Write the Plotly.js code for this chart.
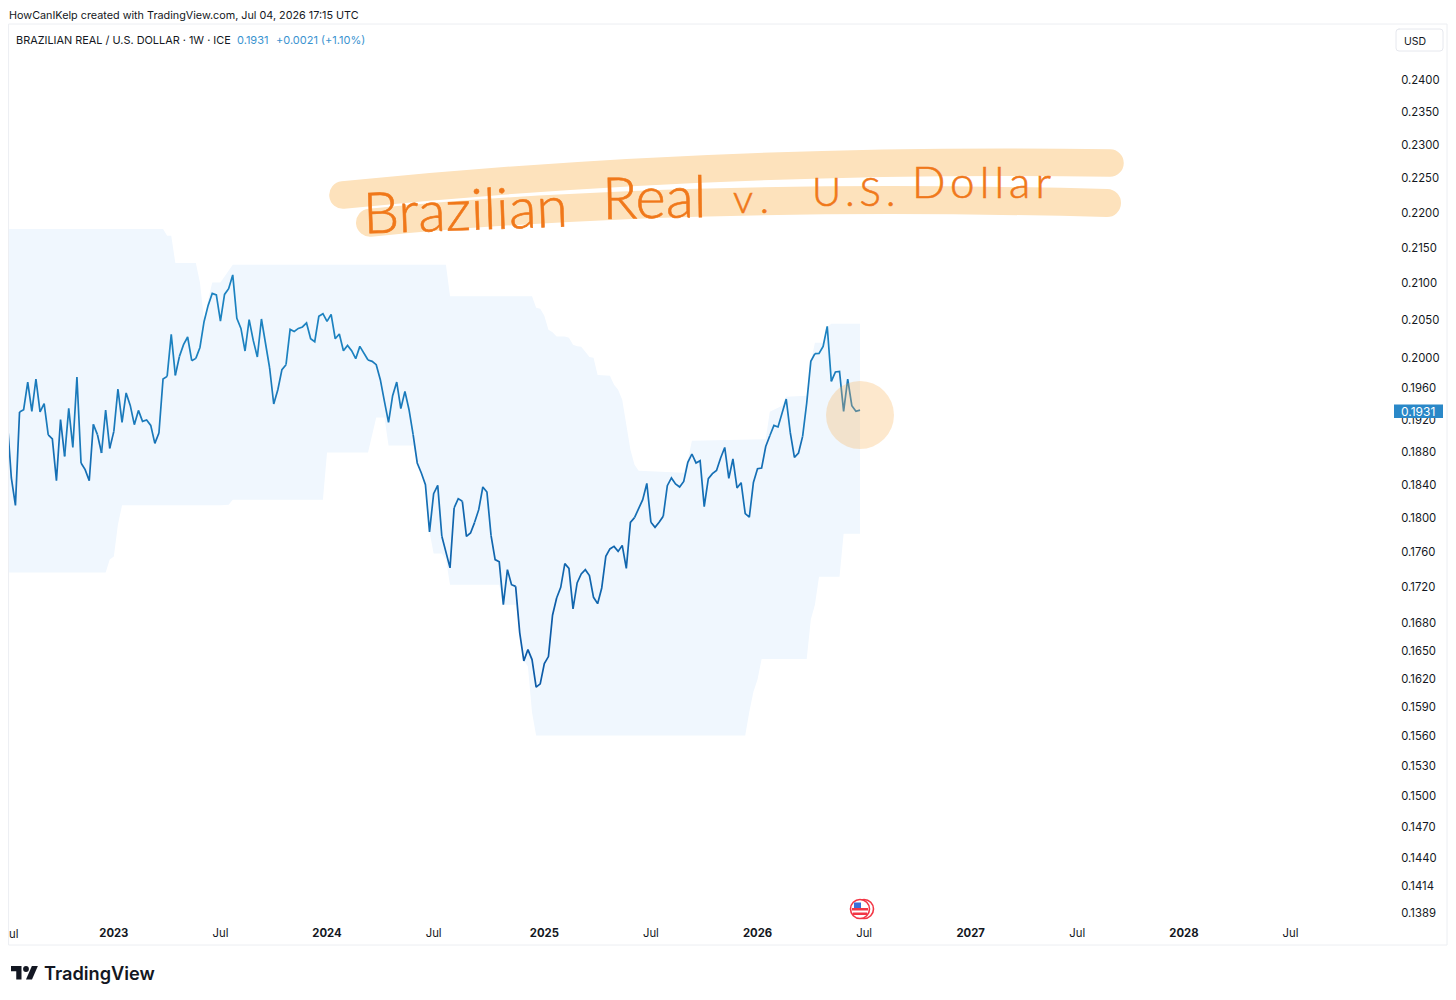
<!DOCTYPE html>
<html>
<head>
<meta charset="utf-8">
<script src="https://cdn.plot.ly/plotly-3.0.1.min.js"></script>
<style>
html,body{margin:0;padding:0;background:#fff;}
#chart{width:1456px;height:1000px;}
.shapelayer path{stroke-linecap:round;}
.ytick text{translate:0 1px;}
text[data-unformatted="Brazilian"],text[data-unformatted="Real"],text[data-unformatted="v."],text[data-unformatted="U.S."],text[data-unformatted="Dollar"]{stroke:#f0781a;stroke-width:0.6px;}
text[data-unformatted="U.S."]{letter-spacing:5px;}
text[data-unformatted="v."]{letter-spacing:8px;}
text[data-unformatted="Dollar"]{letter-spacing:5px;}
</style>
</head>
<body>
<div id="chart"></div>
<script>
// Weekly closes, oldest (week of 2022-07-04) to newest (week of 2026-06-29)
const firstWeek = '2022-07-04';
const closeValues = [
0.1919,0.18469,0.18140,0.19287,0.19316,0.19670,0.19295,0.19709,0.19287,0.19392,
0.18998,0.18948,0.18436,0.19190,0.18733,0.19332,0.18843,0.19735,0.18652,0.18570,
0.18436,0.19131,0.19002,0.18774,0.19312,0.18831,0.19043,0.19580,0.19156,0.19529,
0.19370,0.19127,0.19307,0.19169,0.19186,0.19118,0.18893,0.19023,0.19709,0.19743,
0.20295,0.19756,0.20004,0.20158,0.20260,0.19948,0.19978,0.20122,0.20465,0.20685,
0.20849,0.20827,0.20474,0.20835,0.20913,0.21103,0.20510,0.20375,0.20075,0.20492,
0.20215,0.19996,0.20501,0.20180,0.19852,0.19388,0.19571,0.19830,0.19895,0.20362,
0.20335,0.20375,
0.20394,0.20448,0.20237,0.20198,0.20537,0.20573,0.20469,0.20564,0.20237,0.20300,
0.20079,0.20149,0.20079,0.19974,0.20136,0.20048,0.19957,0.19939,0.19895,0.19700,
0.19421,0.19156,0.19494,0.19670,0.19329,0.19549,0.19316,0.19002,0.18652,0.18530,
0.18388,0.17826,0.18280,0.18380,0.17775,0.17582,0.17410,0.18109,0.18220,0.18188,
0.17775,0.17814,0.17939,0.18089,0.18360,0.18300,0.17786,0.17505,0.17479,
0.16995,0.17390,0.17219,0.17200,0.16683,0.16379,0.16501,0.16393,0.16098,0.16134,
0.16350,0.16425,0.16877,0.17070,0.17189,0.17459,0.17405,0.16948,0.17239,0.17341,
0.17390,0.17322,0.17077,0.17006,0.17182,0.17543,0.17628,0.17658,0.17600,0.17669,
0.17405,0.17939,0.17995,0.18104,0.18208,0.18403,0.17939,0.17880,0.17939,0.18010,
0.18376,0.18469,0.18396,0.18360,0.18427,0.18659,0.18762,0.18652,0.18680,0.18125,
0.18460,0.18521,0.18561,0.18713,0.18843,0.18464,0.18701,0.18348,0.18412,0.18042,
0.17999,0.18415,0.18582,0.18590,0.18855,0.18989,0.19118,0.19098,0.19274,0.19452,
0.19023,0.18721,0.18774,0.18980,0.19401,0.19939,0.20040,0.20043,0.20136,0.20403,
0.19678,0.19800,0.19808,0.19295,0.19709,0.19367,0.19295,0.1931];

// Channel edges: weeks before the last bar, and level at that week
const upperWeeksAgo = [208,170,169,168,167,162,161,160,159,158,156,153,101,100,80,79,78,77,76,75,74,72,71,70,69,68,67,66,65,64,61,60,59,58,57,56,55,54,43,42,41,23,22,21,20,19,18,13,12,11,9,8,7,0];
const upperValues = [0.21749,0.21749,0.21654,0.21654,0.21269,0.21269,0.2100,0.20492,0.20763,0.2100,0.2100,0.21245,0.21245,0.20808,0.20808,0.20654,0.20640,0.20546,0.20358,0.20322,0.20268,0.20268,0.20250,0.20158,0.20136,0.20132,0.20066,0.19996,0.19987,0.19760,0.19751,0.19636,0.19571,0.19443,0.19127,0.18815,0.18631,0.18557,0.18533,0.18692,0.18927,0.18945,0.19291,0.19316,0.19341,0.19367,0.19481,0.19494,0.19935,0.20184,0.20184,0.20397,0.20438,0.20438];
const lowerWeeksAgo = [208,184,183,182,181,180,156,154,153,131,130,120,118,116,115,109,108,107,106,105,104,102,101,100,88,87,84,83,82,81,80,79,28,27,26,25,24,13,12,11,10,5,4,0];
const lowerValues = [0.17358,0.17358,0.17505,0.17540,0.17912,0.18140,0.18140,0.18148,0.18208,0.18208,0.18782,0.18782,0.19218,0.19218,0.18868,0.18868,0.18655,0.18533,0.18388,0.17829,0.17574,0.17574,0.17505,0.17219,0.17219,0.16995,0.16995,0.16686,0.16382,0.16318,0.15832,0.15596,0.15596,0.15842,0.16051,0.16179,0.16399,0.16399,0.16829,0.16995,0.17310,0.17310,0.17806,0.17806];

const yTickValues = [0.24,0.235,0.23,0.225,0.22,0.215,0.21,0.205,0.2,0.196,0.192,0.188,0.184,0.18,0.176,0.172,0.168,0.165,0.162,0.159,0.156,0.153,0.15,0.147,0.144,0.1414,0.1389];
const xTickDates = ['2023-01-02','2023-07-03','2024-01-01','2024-07-01','2025-01-06','2025-07-07','2026-01-05','2026-07-06','2027-01-04','2027-07-05','2028-01-03','2028-07-03'];
const xTickLabels = ['<b>2023</b>','Jul','<b>2024</b>','Jul','<b>2025</b>','Jul','<b>2026</b>','Jul','<b>2027</b>','Jul','<b>2028</b>','Jul'];

const headerText = 'HowCanIKelp created with TradingView.com, Jul 04, 2026 17:15 UTC';
const symbolText = 'BRAZILIAN REAL / U.S. DOLLAR · 1W · ICE';
const lastText = '0.1931';
const changeText = '+0.0021 (+1.10%)';

// Layout helpers
const L=9,R=1393,T=24,B=925;
const px=x=>(x-L)/(R-L);
const py=y=>1-(y-T)/(B-T);
const P=(x,y)=>px(x)+' '+py(y);
const DAY=86400000, t0=Date.parse(firstWeek+'T00:00:00Z');
const lastIdx=closeValues.length-1;
const iso=ms=>new Date(ms).toISOString().slice(0,10);
const weekDate=i=>iso(t0+i*7*DAY);
const agoDate=k=>weekDate(lastIdx-k);

// band polygon
const bandX=upperWeeksAgo.map(agoDate).concat(lowerWeeksAgo.slice().reverse().map(agoDate));
const bandY=upperValues.concat(lowerValues.slice().reverse());
const traces=[{type:'scatter',mode:'lines',x:bandX,y:bandY,fill:'toself',fillcolor:'#f0f7fe',line:{width:0},hoverinfo:'skip',showlegend:false}];

// price line, colour shifts with level
const bucket=v=>v>=0.2?'#1c82c0':v>=0.19?'#1a7abb':v>=0.18?'#156fb5':v>=0.17?'#1166ae':'#0d5ca8';
let run=null;
for(let i=0;i<lastIdx;i++){
  const c=bucket((closeValues[i]+closeValues[i+1])/2);
  if(!run||run.line.color!==c){
    run={type:'scatter',mode:'lines',x:[weekDate(i)],y:[closeValues[i]],line:{color:c,width:1.7,shape:'linear'},hoverinfo:'skip',showlegend:false};
    traces.push(run);
  }
  run.x.push(weekDate(i+1)); run.y.push(closeValues[i+1]);
}

const ink='#131722', blue='#3a93d0', orange='#f0781a', hi='#fde2bc';
const txt=(text,x,y,o={})=>Object.assign({xref:'paper',yref:'paper',x:px(x-2),y:py(y),text,showarrow:false,xanchor:'left',yanchor:'middle',
  font:Object.assign({family:'Inter, Roboto, sans-serif',size:11,color:ink},o.font||{})},o.a||{});
const hand=(text,x,y,size,angle)=>txt(text,x,y,{font:{family:'Lato, sans-serif',size,color:orange,weight:300},a:{textangle:angle}});

const annotations=[
  txt(headerText,9,15.5,{font:{size:10.8}}),
  txt(symbolText,16,40.5,{font:{size:10.9}}),
  txt(lastText,237,40.5,{font:{size:11,color:blue}}),
  txt(changeText,276,40.5,{font:{size:11,color:blue}}),
  txt('USD',1404,41,{font:{size:10.5}}),
  txt('0.1931',1401,411.5,{font:{size:12,color:'#ffffff'}}),
  txt('ul',9,933.5,{font:{size:11.3}}),
  txt('TradingView',44,973,{font:{size:18.2,weight:600,color:'#131722'}}),
  hand('Brazilian',362,208,57,-2),
  hand('Real',601,196,58,-1),
  hand('v.',733,198,40,0),
  hand('U.S.',812,191,40,0),
  hand('Dollar',912,181,44,0)
];

const logo=[
  'M11 966H21.5V979.5H16.25V971.25H11Z',
  'M26 979.5H32L37.9 966H31.9Z'
];
const pathShape=(d,color,width,fill)=>({type:'path',xref:'paper',yref:'paper',path:d,line:{color,width},fillcolor:fill||'rgba(0,0,0,0)',layer:'above'});
const toPaperPath=s=>s.replace(/([MLHVZ])([^MLHVZ]*)/g,(m,c,a)=>{
  const n=a.trim();
  if(c==='Z') return 'Z';
  if(c==='H') return 'H'+px(+n);
  if(c==='V') return 'V'+py(+n);
  const [x,y]=n.split(' ').map(Number); return c+px(x)+' '+py(y);
});
const circle=(cx,cy,r,fill,lc,lw,layer)=>({type:'circle',xref:'paper',yref:'paper',x0:px(cx-r),x1:px(cx+r),y0:py(cy+r),y1:py(cy-r),fillcolor:fill,line:{color:lc||'rgba(0,0,0,0)',width:lw||0},layer:layer||'above'});
const rect=(x0,y0,x1,y1,fill,lc,lw,layer)=>({type:'rect',xref:'paper',yref:'paper',x0:px(x0),x1:px(x1),y0:py(y1),y1:py(y0),fillcolor:fill,line:{color:lc||'rgba(0,0,0,0)',width:lw||0},layer:layer||'above'});

const shapes=[
  rect(9,24,1447,945,'rgba(0,0,0,0)','#eceef2',1,'below'),
  // highlighter strokes
  pathShape('M'+P(343,195)+'Q'+P(720,157)+' '+P(1110,163),hi,27.5),
  pathShape('M'+P(370,222.7)+'Q'+P(680,192)+' '+P(1107,203),hi,28),
  // callout circle
  circle(860,415,34,'rgba(250,180,90,0.3)'),
  // price label and currency box
  rect(1394,404.5,1443,418,'#2a88c8'),
  {type:'path',xref:'paper',yref:'paper',path:'M'+P(1399,29)+'L'+P(1440,29)+'Q'+P(1443,29)+' '+P(1443,32)+'L'+P(1443,48)+'Q'+P(1443,51)+' '+P(1440,51)+'L'+P(1399,51)+'Q'+P(1396,51)+' '+P(1396,48)+'L'+P(1396,32)+'Q'+P(1396,29)+' '+P(1399,29)+'Z',line:{color:'#e6e8ee',width:1},fillcolor:'#ffffff',layer:'above'},
  // event flag
  circle(864,909,9.5,'#ffffff','#f23645',1.6),
  circle(860,909,9.5,'#ffffff','#f23645',1.6),
  rect(852,908,868,910.5,'#f23645'),
  rect(853,912.5,867,915,'#f23645'),
  rect(854,902.5,861,908,'#3a6fd8'),
  // wordmark icon
  pathShape(toPaperPath(logo[0]),'#131722',0,'#131722'),
  pathShape(toPaperPath(logo[1]),'#131722',0,'#131722'),
  circle(26,969,2.9,'#131722')
];

const layout={
  width:1456,height:1000,
  margin:{l:L,r:1456-R,t:T,b:1000-B,pad:0},
  paper_bgcolor:'#ffffff',plot_bgcolor:'rgba(0,0,0,0)',
  showlegend:false,hovermode:false,
  xaxis:{type:'date',range:['2022-07-07','2028-12-25'],tickmode:'array',tickvals:xTickDates,ticktext:xTickLabels,
    showgrid:false,zeroline:false,showline:false,ticks:'',ticklabelstandoff:0,
    tickfont:{family:'Inter, Roboto, sans-serif',size:11.3,color:ink},tickangle:0},
  yaxis:{type:'log',side:'right',range:[Math.log10(0.13771),Math.log10(0.24883)],tickmode:'array',tickvals:yTickValues,
    ticktext:yTickValues.map(v=>v.toFixed(4)),showgrid:false,zeroline:false,showline:false,ticks:'outside',ticklen:5,tickcolor:'rgba(0,0,0,0)',
    tickfont:{family:'Inter, Roboto, sans-serif',size:11.3,color:ink}},
  annotations,shapes
};
Plotly.newPlot('chart',traces,layout,{staticPlot:true,displayModeBar:false,responsive:false});
</script>
</body>
</html>
